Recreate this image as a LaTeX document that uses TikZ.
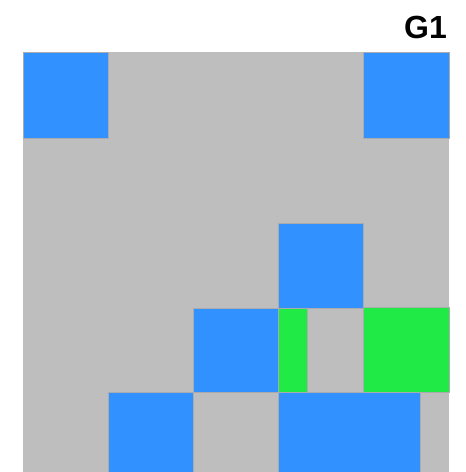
\documentclass[tikz,border=0pt]{standalone}
\usepackage{fontspec}
\setmainfont{Liberation Sans}
\definecolor{cellgray}{RGB}{190,190,190}
\definecolor{cellblue}{RGB}{48,145,255}
\definecolor{cellgreen}{RGB}{32,235,70}
\definecolor{edgegray}{RGB}{170,170,175}
\begin{document}
\begin{tikzpicture}[x=1pt,y=-1pt,
  cell/.style={draw=edgegray,line width=0.6pt},
  blue/.style={cell,fill=cellblue},
  green/.style={cell,fill=cellgreen}]
\useasboundingbox (0,0) rectangle (466,472);
\fill[white] (0,0) rectangle (466,472);
% background grid
\fill[cellgray] (23,52) rectangle (449,472);
% row 1
\filldraw[blue] (23,52) rectangle (108,138);
\filldraw[blue] (363,52) rectangle (449,138);
% row 3
\filldraw[blue] (278,223) rectangle (363,308);
% row 4
\filldraw[blue] (193,308) rectangle (278,392);
\filldraw[green] (278,308) rectangle (307,392);
\filldraw[green] (363,307) rectangle (449,392);
% row 5
\filldraw[blue] (108,392) rectangle (193,473);
\filldraw[blue] (278,392) rectangle (420,473);
\node[anchor=base east,inner sep=0pt,font=\bfseries\fontsize{32}{36}\selectfont] (title) at (447,38.5) {G1};
\end{tikzpicture}
\end{document}
